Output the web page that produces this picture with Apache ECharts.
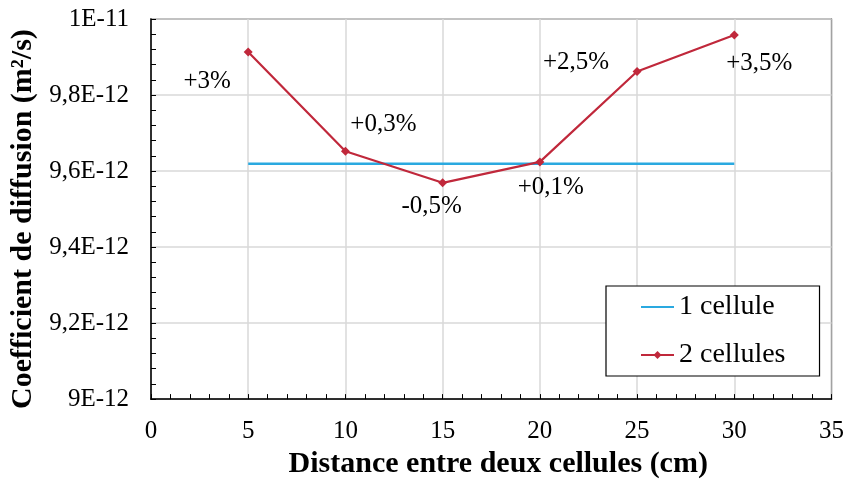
<!DOCTYPE html>
<html>
<head>
<meta charset="utf-8">
<script src="https://cdn.jsdelivr.net/npm/echarts@6/dist/echarts.min.js"></script>
<style>
html,body{margin:0;padding:0;background:#fff;}
#chart{width:847px;height:484px;}
</style>
</head>
<body>
<div id="chart"></div>
<script>
// Distances (cm)
const distances = [5, 10, 15, 20, 25, 30];
// Diffusion coefficient, in units of 1E-12 m²/s
const coef1Cellule = [9.619, 9.619, 9.619, 9.619, 9.619, 9.619];
const coef2Cellules = [9.913, 9.652, 9.569, 9.624, 9.862, 9.958];
// Relative deviation labels
const ecarts = ['+3%', '+0,3%', '-0,5%', '+0,1%', '+2,5%', '+3,5%'];
// Y tick labels (from 9E-12 to 1E-11)
const yTickLabels = ['9E-12', '9,2E-12', '9,4E-12', '9,6E-12', '9,8E-12', '1E-11'];
const seriesNames = ['1 cellule', '2 cellules'];

const labelOffsets = [[-41, 29], [38, -27], [-11, 24], [11, 26], [-61, -9], [25, 28]];

const FONT = '"Liberation Serif","Times New Roman",serif';
const chart = echarts.init(document.getElementById('chart'), null, {renderer: 'canvas'});

const yMin = 9, yInt = 0.2;

const option = {
  animation: false,
  backgroundColor: '#ffffff',
  grid: {
    left: 151, right: 15, top: 19, bottom: 84,
    show: true, borderColor: '#000', borderWidth: 1.2, backgroundColor: 'transparent'
  },
  legend: {
    orient: 'vertical',
    left: 606, top: 286,
    padding: [7, 34, 7, 34],
    itemGap: 20,
    itemWidth: 33, itemHeight: 10,
    borderColor: '#000', borderWidth: 1.2,
    backgroundColor: '#fff',
    textStyle: {fontFamily: FONT, fontSize: 28, color: '#000'},
    data: [
      {name: seriesNames[0], itemStyle: {opacity: 0}},
      {name: seriesNames[1]}
    ]
  },
  xAxis: {
    type: 'value', min: 0, max: 35, interval: 5,
    name: 'Distance entre deux cellules (cm)',
    nameLocation: 'middle', nameGap: 47,
    nameTextStyle: {fontFamily: FONT, fontSize: 30, fontWeight: 'bold', color: '#000', padding: [0, 0, 0, 14]},
    axisLine: {show: true, onZero: false, lineStyle: {color: '#000', width: 1.5}},
    axisTick: {show: true, inside: true, length: 5, lineStyle: {color: '#000', width: 1}},
    minorTick: {show: true, splitNumber: 5, length: 5, lineStyle: {color: '#000', width: 1}},
    axisLabel: {fontFamily: FONT, fontSize: 25, color: '#000', margin: 20},
    splitLine: {show: true, lineStyle: {color: '#d9d9d9', width: 1.5}}
  },
  yAxis: {
    type: 'value', min: yMin, max: 10, interval: yInt,
    name: 'Coefficient de diffusion (m²/s)',
    nameLocation: 'middle', nameGap: 103,
    nameTextStyle: {fontFamily: FONT, fontSize: 30, fontWeight: 'bold', color: '#000', padding: [0, 20, 0, 0]},
    axisLine: {show: true, lineStyle: {color: '#000', width: 1.5}},
    axisTick: {show: true, inside: true, length: 5, lineStyle: {color: '#000', width: 1}},
    minorTick: {show: true, splitNumber: 5, length: 5, lineStyle: {color: '#000', width: 1}},
    axisLabel: {
      fontFamily: FONT, fontSize: 25, color: '#000', margin: 22,
      formatter: function (v) {
        const i = Math.round((v - yMin) / yInt);
        return yTickLabels[i] !== undefined ? yTickLabels[i] : '';
      }
    },
    splitLine: {show: true, lineStyle: {color: '#d9d9d9', width: 1.5}}
  },
  series: [
    {
      name: seriesNames[0],
      type: 'line',
      data: distances.map((d, i) => [d, coef1Cellule[i]]),
      symbol: 'none',
      lineStyle: {color: '#2aa9e0', width: 2.5},
      itemStyle: {color: '#2aa9e0'},
      z: 2
    },
    {
      name: seriesNames[1],
      type: 'line',
      data: distances.map((d, i) => ({
        value: [d, coef2Cellules[i]],
        label: {
          show: true,
          formatter: ecarts[i],
          position: 'inside',
          offset: labelOffsets[i]
        }
      })),
      symbol: 'diamond',
      symbolSize: 9,
      lineStyle: {color: '#c0283b', width: 2.2},
      itemStyle: {color: '#c0283b'},
      label: {fontFamily: FONT, fontSize: 25, color: '#000', align: 'center', verticalAlign: 'middle'},
      z: 3
    }
  ]
};
chart.setOption(option);
</script>
</body>
</html>
